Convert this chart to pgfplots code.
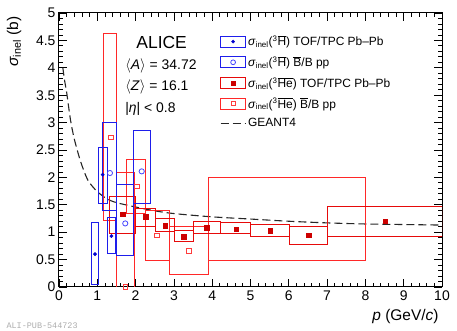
\documentclass[border=0pt]{standalone}
\usepackage{pgfplots}
\pgfplotsset{compat=1.18}
\usepackage{fontspec}
\setmainfont{Liberation Sans}
\newfontfamily\monofont{Liberation Mono}
\definecolor{boxblue}{RGB}{30,30,235}
\definecolor{markblue}{RGB}{0,0,205}
\definecolor{openblue}{RGB}{70,70,255}
\definecolor{boxred}{RGB}{230,10,10}
\definecolor{boxredpp}{RGB}{255,40,40}
\definecolor{markred}{RGB}{205,0,0}
\definecolor{openred}{RGB}{255,60,60}
% box: xlo xhi ylo yhi style
\newcommand\databox[5]{\addplot[#5, line width=1bp, forget plot, mark=none] coordinates {(#1,#3) (#2,#3) (#2,#4) (#1,#4)} --cycle;}
\begin{document}
\begin{tikzpicture}
\useasboundingbox (-59bp,-44bp) rectangle (398bp,287bp);
\begin{axis}[
  scale only axis, width=383bp, height=274bp,
  xmin=0, xmax=10, ymin=0, ymax=5,
  xtick={0,1,...,10}, ytick={0,0.5,...,5},
  minor x tick num=4, minor y tick num=4,
  tick align=inside, major tick length=8bp, minor tick length=4bp,
  axis line style={line width=1bp},
  every tick/.style={black, line width=0.8bp},
  /pgf/number format/assume math mode=true,
  ticklabel style={font=\fontsize{14}{14}\selectfont},
  yticklabel style={/pgf/number format/fixed},
  xlabel={\textit{p} (GeV/\textit{c})},
  xlabel style={at={(rel axis cs:1,-0.124)}, anchor=base east, font=\fontsize{15.5}{15.5}\selectfont},
  ylabel={\textit{σ}\textsubscript{inel} (b)},
  ylabel style={at={(rel axis cs:-0.107,1)}, anchor=base east, font=\fontsize{15.5}{15.5}\selectfont},
  legend style={at={(rel axis cs:0.42,0.925)}, anchor=north west, draw=none, fill=none,
     inner sep=0pt, row sep=5bp, font=\fontsize{12}{12}\selectfont, cells={anchor=west}},
  legend cell align=left,
]
% GEANT4
\addplot[black!85, line width=1.1bp, dash pattern=on 8bp off 4bp, forget plot, smooth] coordinates {
(0.1,4.0) (0.15,3.75) (0.2,3.55) (0.3,3.05) (0.4,2.7) (0.55,2.32) (0.7,2.03) (0.8,1.9)
(1.0,1.74) (1.25,1.61) (1.5,1.54) (2,1.46) (2.5,1.39) (3,1.34) (4,1.28) (5,1.24)
(6,1.2) (7,1.17) (8,1.15) (9,1.14) (10,1.13)};

% 3He-bar B/B pp boxes
\databox{1.17}{1.50}{1.21}{4.63}{boxredpp}
\databox{1.51}{1.97}{-2.09}{2.09}{boxredpp}
\databox{1.77}{2.25}{1.35}{2.33}{boxredpp}
\databox{2.25}{2.88}{0.49}{1.40}{boxredpp}
\databox{2.88}{3.90}{0.22}{1.10}{boxredpp}
\databox{3.90}{8.00}{0.49}{2.00}{boxredpp}
% 3He-bar Pb-Pb boxes
\databox{1.31}{2.01}{0.98}{1.66}{boxred}
\databox{2.01}{2.51}{1.10}{1.44}{boxred}
\databox{2.51}{3.02}{1.01}{1.25}{boxred}
\databox{3.02}{3.52}{0.83}{1.04}{boxred}
\databox{3.52}{4.21}{0.98}{1.20}{boxred}
\databox{4.21}{5.01}{0.97}{1.17}{boxred}
\databox{5.01}{6.01}{0.92}{1.14}{boxred}
\databox{6.01}{7.00}{0.77}{1.11}{boxred}
\databox{7.00}{10.0}{0.93}{1.46}{boxred}
% 3H-bar boxes
\databox{0.84}{1.04}{0.04}{1.17}{boxblue}
\databox{1.04}{1.26}{1.53}{2.55}{boxblue}
\databox{1.26}{1.47}{0.61}{1.26}{boxblue}
\databox{1.13}{1.50}{1.39}{3.00}{boxblue}
\databox{1.50}{1.94}{0.58}{1.87}{boxblue}
\databox{1.94}{2.38}{1.53}{2.85}{boxblue}

% markers
\addplot[only marks, mark=*, mark size=1.7bp, color=markblue, forget plot] coordinates {(0.94,0.60) (1.14,2.05) (1.37,0.93)};
\addplot[only marks, mark=o, mark size=2.6bp, color=openblue, line width=0.8bp, forget plot] coordinates {(1.33,2.08) (1.73,1.16) (2.16,2.11)};
\addplot[only marks, mark=square*, mark size=2.2bp, color=markred, forget plot] coordinates {
(1.66,1.33) (2.26,1.28) (2.77,1.12) (3.26,0.92) (3.86,1.08) (4.63,1.06) (5.52,1.03) (6.52,0.94) (8.51,1.20)};
\addplot[only marks, mark=square, mark size=2.2bp, color=openred, line width=0.8bp, forget plot] coordinates {
(1.35,2.73) (1.73,0.0) (2.03,1.84) (2.56,0.94) (3.39,0.66)};

\node[anchor=base west, font=\fontsize{17.5}{17.5}\selectfont] at (axis cs:1.93,4.36) {ALICE};
\node[anchor=base west, font=\fontsize{14}{14}\selectfont] at (axis cs:1.64,3.96) {$\langle$\textit{A}$\rangle$ = 34.72};
\node[anchor=base west, font=\fontsize{14}{14}\selectfont] at (axis cs:1.64,3.58) {$\langle$\textit{Z}$\rangle$ = 16.1};
\node[anchor=base west, font=\fontsize{14}{14}\selectfont] at (axis cs:1.64,3.19) {|\textit{η}| < 0.8};

\addlegendimage{legend image code/.code={\draw[boxblue, line width=1.1bp] (0bp,-5.5bp) rectangle (25bp,5.5bp); \fill[markblue] (12.5bp,0bp) circle (1.6bp);}}
\addlegendentry{\textit{σ}\textsubscript{inel}(\textsuperscript{3}$\overline{\mbox{H}}$) TOF/TPC Pb--Pb}
\addlegendimage{legend image code/.code={\draw[boxblue, line width=1.1bp] (0bp,-5.5bp) rectangle (25bp,5.5bp); \draw[openblue, line width=0.8bp] (12.5bp,0bp) circle (2.4bp);}}
\addlegendentry{\textit{σ}\textsubscript{inel}(\textsuperscript{3}$\overline{\mbox{H}}$) $\overline{\mbox{B}}$/B pp}
\addlegendimage{legend image code/.code={\draw[boxred, line width=1.1bp] (0bp,-5.5bp) rectangle (25bp,5.5bp); \fill[markred] (10.5bp,-2bp) rectangle (14.5bp,2bp);}}
\addlegendentry{\textit{σ}\textsubscript{inel}(\textsuperscript{3}$\overline{\mbox{He}}$) TOF/TPC Pb--Pb}
\addlegendimage{legend image code/.code={\draw[boxredpp, line width=1.1bp] (0bp,-5.5bp) rectangle (25bp,5.5bp); \draw[openred, line width=0.8bp] (10.5bp,-2bp) rectangle (14.5bp,2bp);}}
\addlegendentry{\textit{σ}\textsubscript{inel}(\textsuperscript{3}$\overline{\mbox{He}}$) $\overline{\mbox{B}}$/B pp}
\addlegendimage{legend image code/.code={\draw[black!85, line width=1.1bp, dash pattern=on 8bp off 4bp] (0bp,0bp) -- (25bp,0bp);}}
\addlegendentry{GEANT4}
\end{axis}
\node[anchor=base west, font=\monofont\fontsize{8.5}{8.5}\selectfont, text=gray!65] at (-56bp,-41bp) {ALI-PUB-544723};
\end{tikzpicture}
\end{document}
